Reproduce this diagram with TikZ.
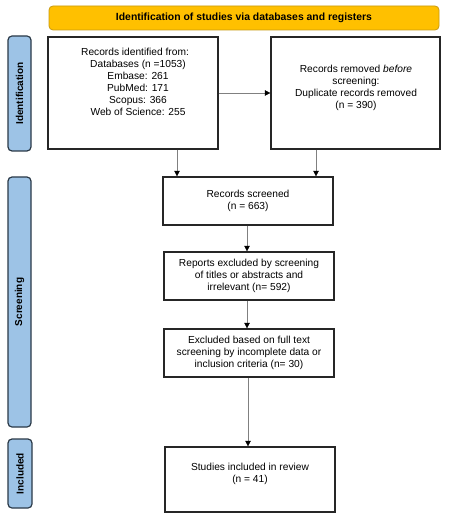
\documentclass[tikz,border=0pt]{standalone}
\usepackage{fontspec}
\setmainfont{Liberation Sans}
\usetikzlibrary{arrows.meta}
\definecolor{tabblue}{HTML}{9DC3E6}
\definecolor{tabedge}{HTML}{2B3A48}
\definecolor{baryellow}{HTML}{FFC000}
\definecolor{baredge}{HTML}{C89A10}
\definecolor{arrgray}{HTML}{808080}
\begin{document}
\begin{tikzpicture}[x=1pt,y=-1pt,
  box/.style={draw=black!85,line width=1.3pt,fill=white},
  tab/.style={draw=tabedge,line width=1.2pt,fill=tabblue,rounded corners=4pt},
  bar/.style={draw=baredge,line width=0.8pt,fill=baryellow,rounded corners=4pt},
  txt/.style={font=\fontsize{10.2}{12}\selectfont,align=center,inner sep=0pt},
  tabtxt/.style={font=\bfseries\fontsize{10}{12}\selectfont,rotate=90,inner sep=0pt},
  flow/.style={draw=arrgray,line width=0.6pt,-{Triangle[length=5.5pt,width=5.5pt,fill=black,color=black]}}]
\useasboundingbox (0,0) rectangle (450,518);
\fill[white] (0,0) rectangle (450,518);
% header bar
\draw[bar] (49,6) rectangle (439,30);
\node[txt,font=\bfseries\fontsize{10.4}{12}\selectfont] (title) at (244,18) {Identification of studies via databases and registers};
% side tabs
\draw[tab] (8,36) rectangle (31,151);
\node[tabtxt] (tid) at (19.5,93.5) {Identification};
\draw[tab] (8,177) rectangle (31,427);
\node[tabtxt] (tsc) at (19.5,302) {Screening};
\draw[tab] (8,439) rectangle (32,508);
\node[tabtxt] (tin) at (20,473.5) {Included};
% boxes
\node[box,minimum width=170pt,minimum height=112pt,inner sep=0pt] (ident) at (133,93) {};
\node[txt] (identtxt) at (138,82) {Records identified from:\hspace*{6pt}\\Databases (n =1053)\\Embase: 261\\PubMed: 171\\Scopus: 366\\Web of Science: 255};
\node[box,minimum width=169pt,minimum height=112pt,inner sep=0pt] (removed) at (355.5,93) {};
\node[txt] (removedtxt) at (356,87.5) {Records removed \textit{before}\\screening:\\Duplicate records removed\\(n = 390)};
\node[box,minimum width=170pt,minimum height=48pt,inner sep=0pt] (screened) at (248,201) {};
\node[txt] (screenedtxt) at (248,201) {Records screened\\(n = 663)};
\node[box,minimum width=170pt,minimum height=48pt,inner sep=0pt] (reports) at (249,276) {};
\node[txt] (reportstxt) at (249,275.5) {Reports excluded by screening\\of titles or abstracts and\\irrelevant (n= 592)};
\node[box,minimum width=170pt,minimum height=48pt,inner sep=0pt] (excluded) at (249,353) {};
\node[txt] (excludedtxt) at (249,352.5) {Excluded based on full text\\screening by incomplete data or\\inclusion criteria (n= 30)};
\node[box,minimum width=170pt,minimum height=65pt,inner sep=0pt] (included) at (250,479.5) {};
\node[txt] (includedtxt) at (250,473.5) {Studies included in review\\(n = 41)};
% connectors
\draw[flow] (ident.east) -- (removed.west);
\draw[flow] (ident.south -| 177,0) -- (screened.north -| 177,0);
\draw[flow] (removed.south -| 316,0) -- (screened.north -| 316,0);
\draw[flow] (screened.south -| 247,0) -- (reports.north -| 247,0);
\draw[flow] (reports.south -| 247,0) -- (excluded.north -| 247,0);
\draw[flow] (excluded.south -| 248,0) -- (included.north -| 248,0);
\end{tikzpicture}
\end{document}
